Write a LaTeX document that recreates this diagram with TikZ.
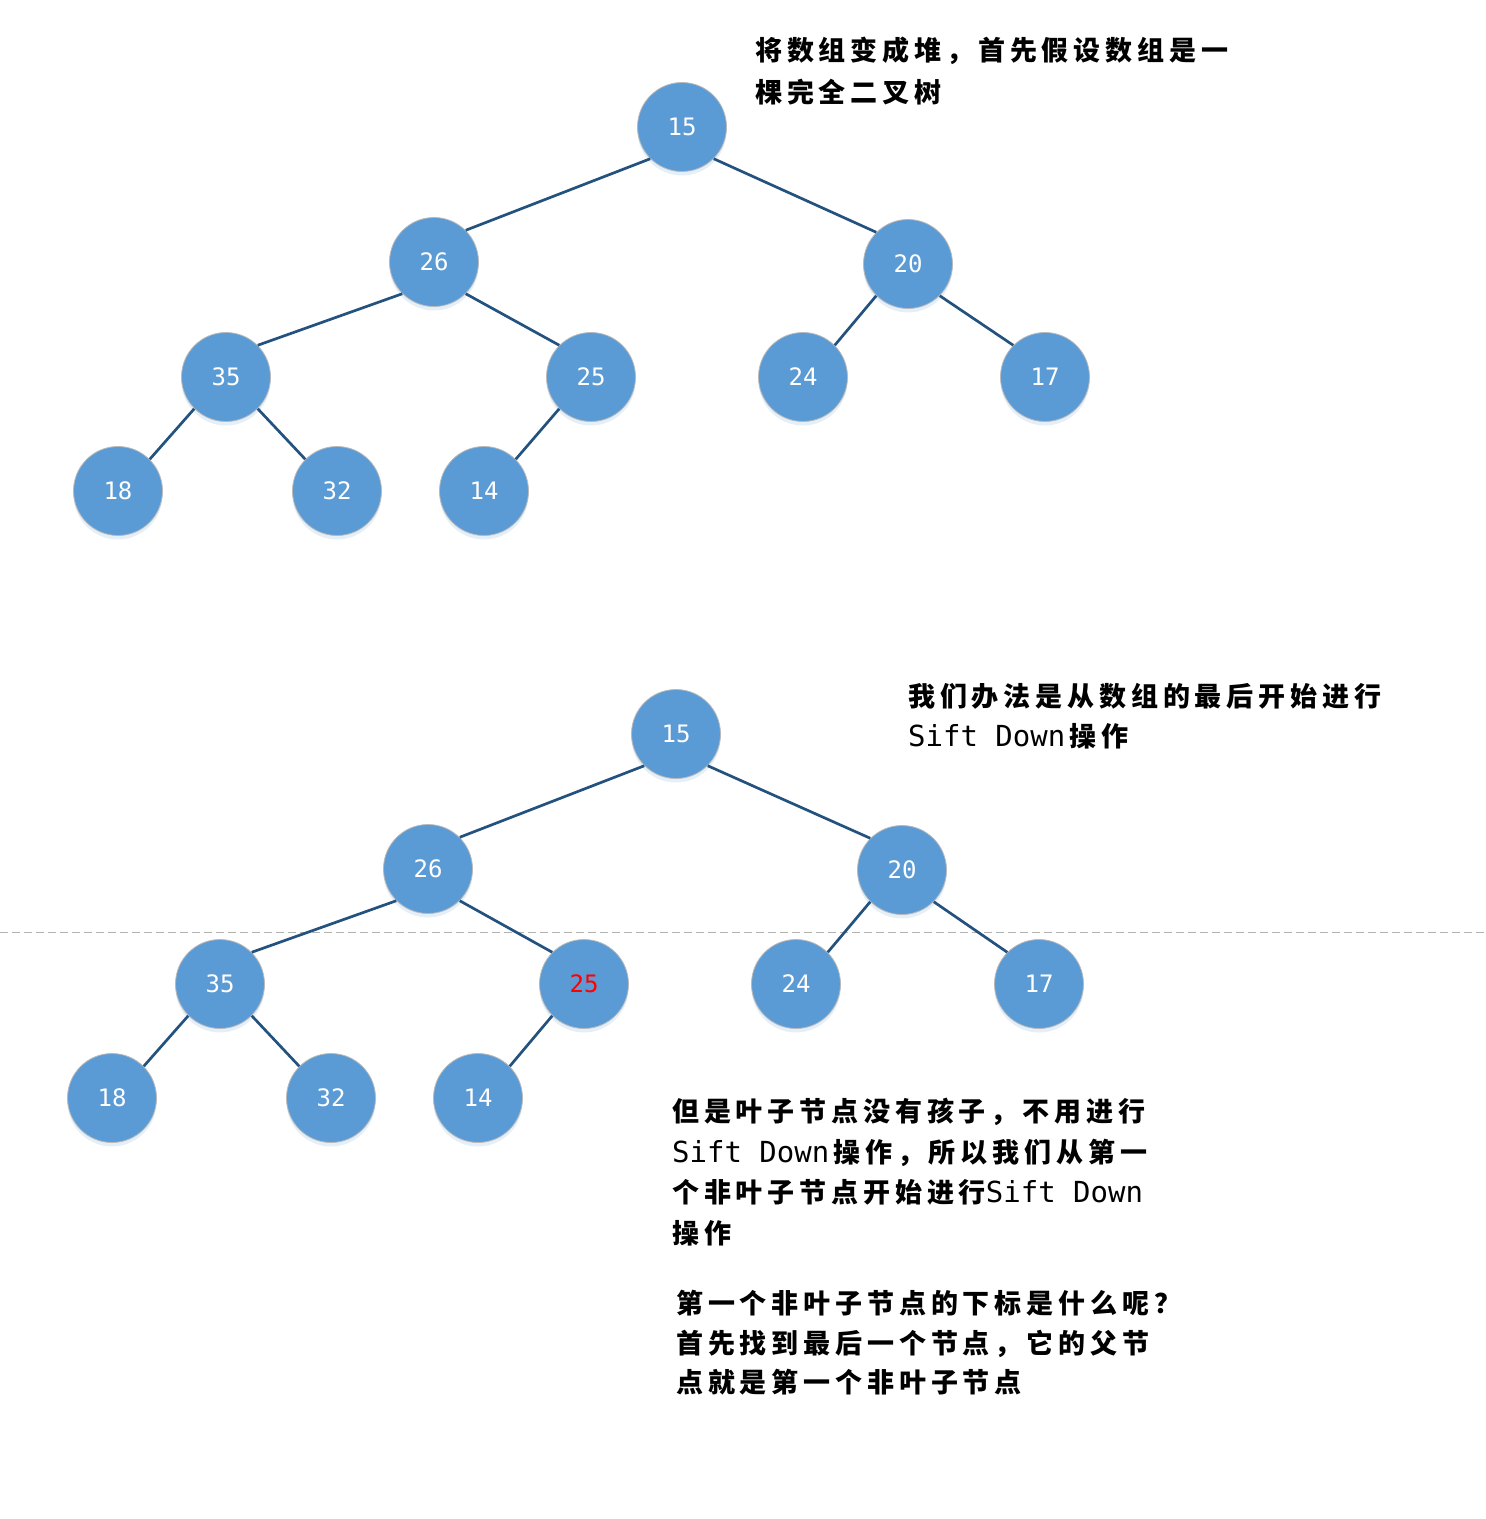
\documentclass[tikz,border=0pt]{standalone}
\usepackage{fontspec}
\setmainfont{DejaVu Sans}
\newfontfamily\cjk[LetterSpace=18]{Noto Sans CJK SC}
\newfontfamily\monof{DejaVu Sans Mono}
\usetikzlibrary{shadows}
\definecolor{nodeblue}{HTML}{5B9BD5}
\definecolor{edgeblue}{HTML}{24527F}
\newcommand\SiftD{{\monof\mdseries\fontsize{29}{40.5}\selectfont Sift Down}}
\begin{document}
\begin{tikzpicture}[x=1pt,y=-1pt,
  treenode/.style={circle, minimum size=89pt, inner sep=0pt, fill=nodeblue, draw=gray!55, line width=0.8pt,
    text=white, font=\monof\fontsize{24}{24}\selectfont,
    drop shadow={shadow xshift=0pt, shadow yshift=-4pt, fill=nodeblue!35, opacity=0.45}},
  link/.style={draw=edgeblue, line width=2.7pt},
  note/.style={anchor=north west, inner sep=0pt, align=left, font=\cjk\bfseries\fontsize{27}{40.5}\selectfont}]
\useasboundingbox (0,0) rectangle (1486,1519);
% dashed separator
\coordinate (dl) at (0,932);
\coordinate (dr) at (1486,932);
\draw[gray!60, line width=1pt, dash pattern=on 8pt off 4pt] (dl) -- (dr);
% top tree
\node[treenode] (a15) at (682,127) {15};
\node[treenode] (a26) at (434,262) {26};
\node[treenode] (a20) at (908,264) {20};
\node[treenode] (a35) at (226,377) {35};
\node[treenode] (a25) at (591,377) {25};
\node[treenode] (a24) at (803,377) {24};
\node[treenode] (a17) at (1045,377) {17};
\node[treenode] (a18) at (118,491) {18};
\node[treenode] (a32) at (337,491) {32};
\node[treenode] (a14) at (484,491) {14};
\draw[link] (a15.south west) -- (a26.north east);
\draw[link] (a15.south east) -- (a20.north west);
\draw[link] (a26.south west) -- (a35.north east);
\draw[link] (a26.south east) -- (a25.north west);
\draw[link] (a20.south west) -- (a24.north east);
\draw[link] (a20.south east) -- (a17.north west);
\draw[link] (a35.south west) -- (a18.north east);
\draw[link] (a35.south east) -- (a32.north west);
\draw[link] (a25.south west) -- (a14.north east);
% bottom tree
\node[treenode] (b15) at (676,734) {15};
\node[treenode] (b26) at (428,869) {26};
\node[treenode] (b20) at (902,870) {20};
\node[treenode] (b35) at (220,984) {35};
\node[treenode, text=red] (b25) at (584,984) {25};
\node[treenode] (b24) at (796,984) {24};
\node[treenode] (b17) at (1039,984) {17};
\node[treenode] (b18) at (112,1098) {18};
\node[treenode] (b32) at (331,1098) {32};
\node[treenode] (b14) at (478,1098) {14};
\draw[link] (b15.south west) -- (b26.north east);
\draw[link] (b15.south east) -- (b20.north west);
\draw[link] (b26.south west) -- (b35.north east);
\draw[link] (b26.south east) -- (b25.north west);
\draw[link] (b20.south west) -- (b24.north east);
\draw[link] (b20.south east) -- (b17.north west);
\draw[link] (b35.south west) -- (b18.north east);
\draw[link] (b35.south east) -- (b32.north west);
\draw[link] (b25.south west) -- (b14.north east);
% notes
\node[note] (n1) at (755,37) {将数组变成堆，首先假设数组是一\\[1.5pt]棵完全二叉树};
\node[note] (n2) at (908,683) {我们办法是从数组的最后开始进行\\\SiftD\hspace{4pt}操作};
\node[note] (n3) at (672,1098) {但是叶子节点没有孩子，不用进行\\\SiftD\hspace{4pt}操作，所以我们从第一\\个非叶子节点开始进行\SiftD\\操作};
\node[note] (n4) at (676,1290) {第一个非叶子节点的下标是什么呢？\\[-1pt]首先找到最后一个节点，它的父节\\[-1pt]点就是第一个非叶子节点};
\end{tikzpicture}
\end{document}
